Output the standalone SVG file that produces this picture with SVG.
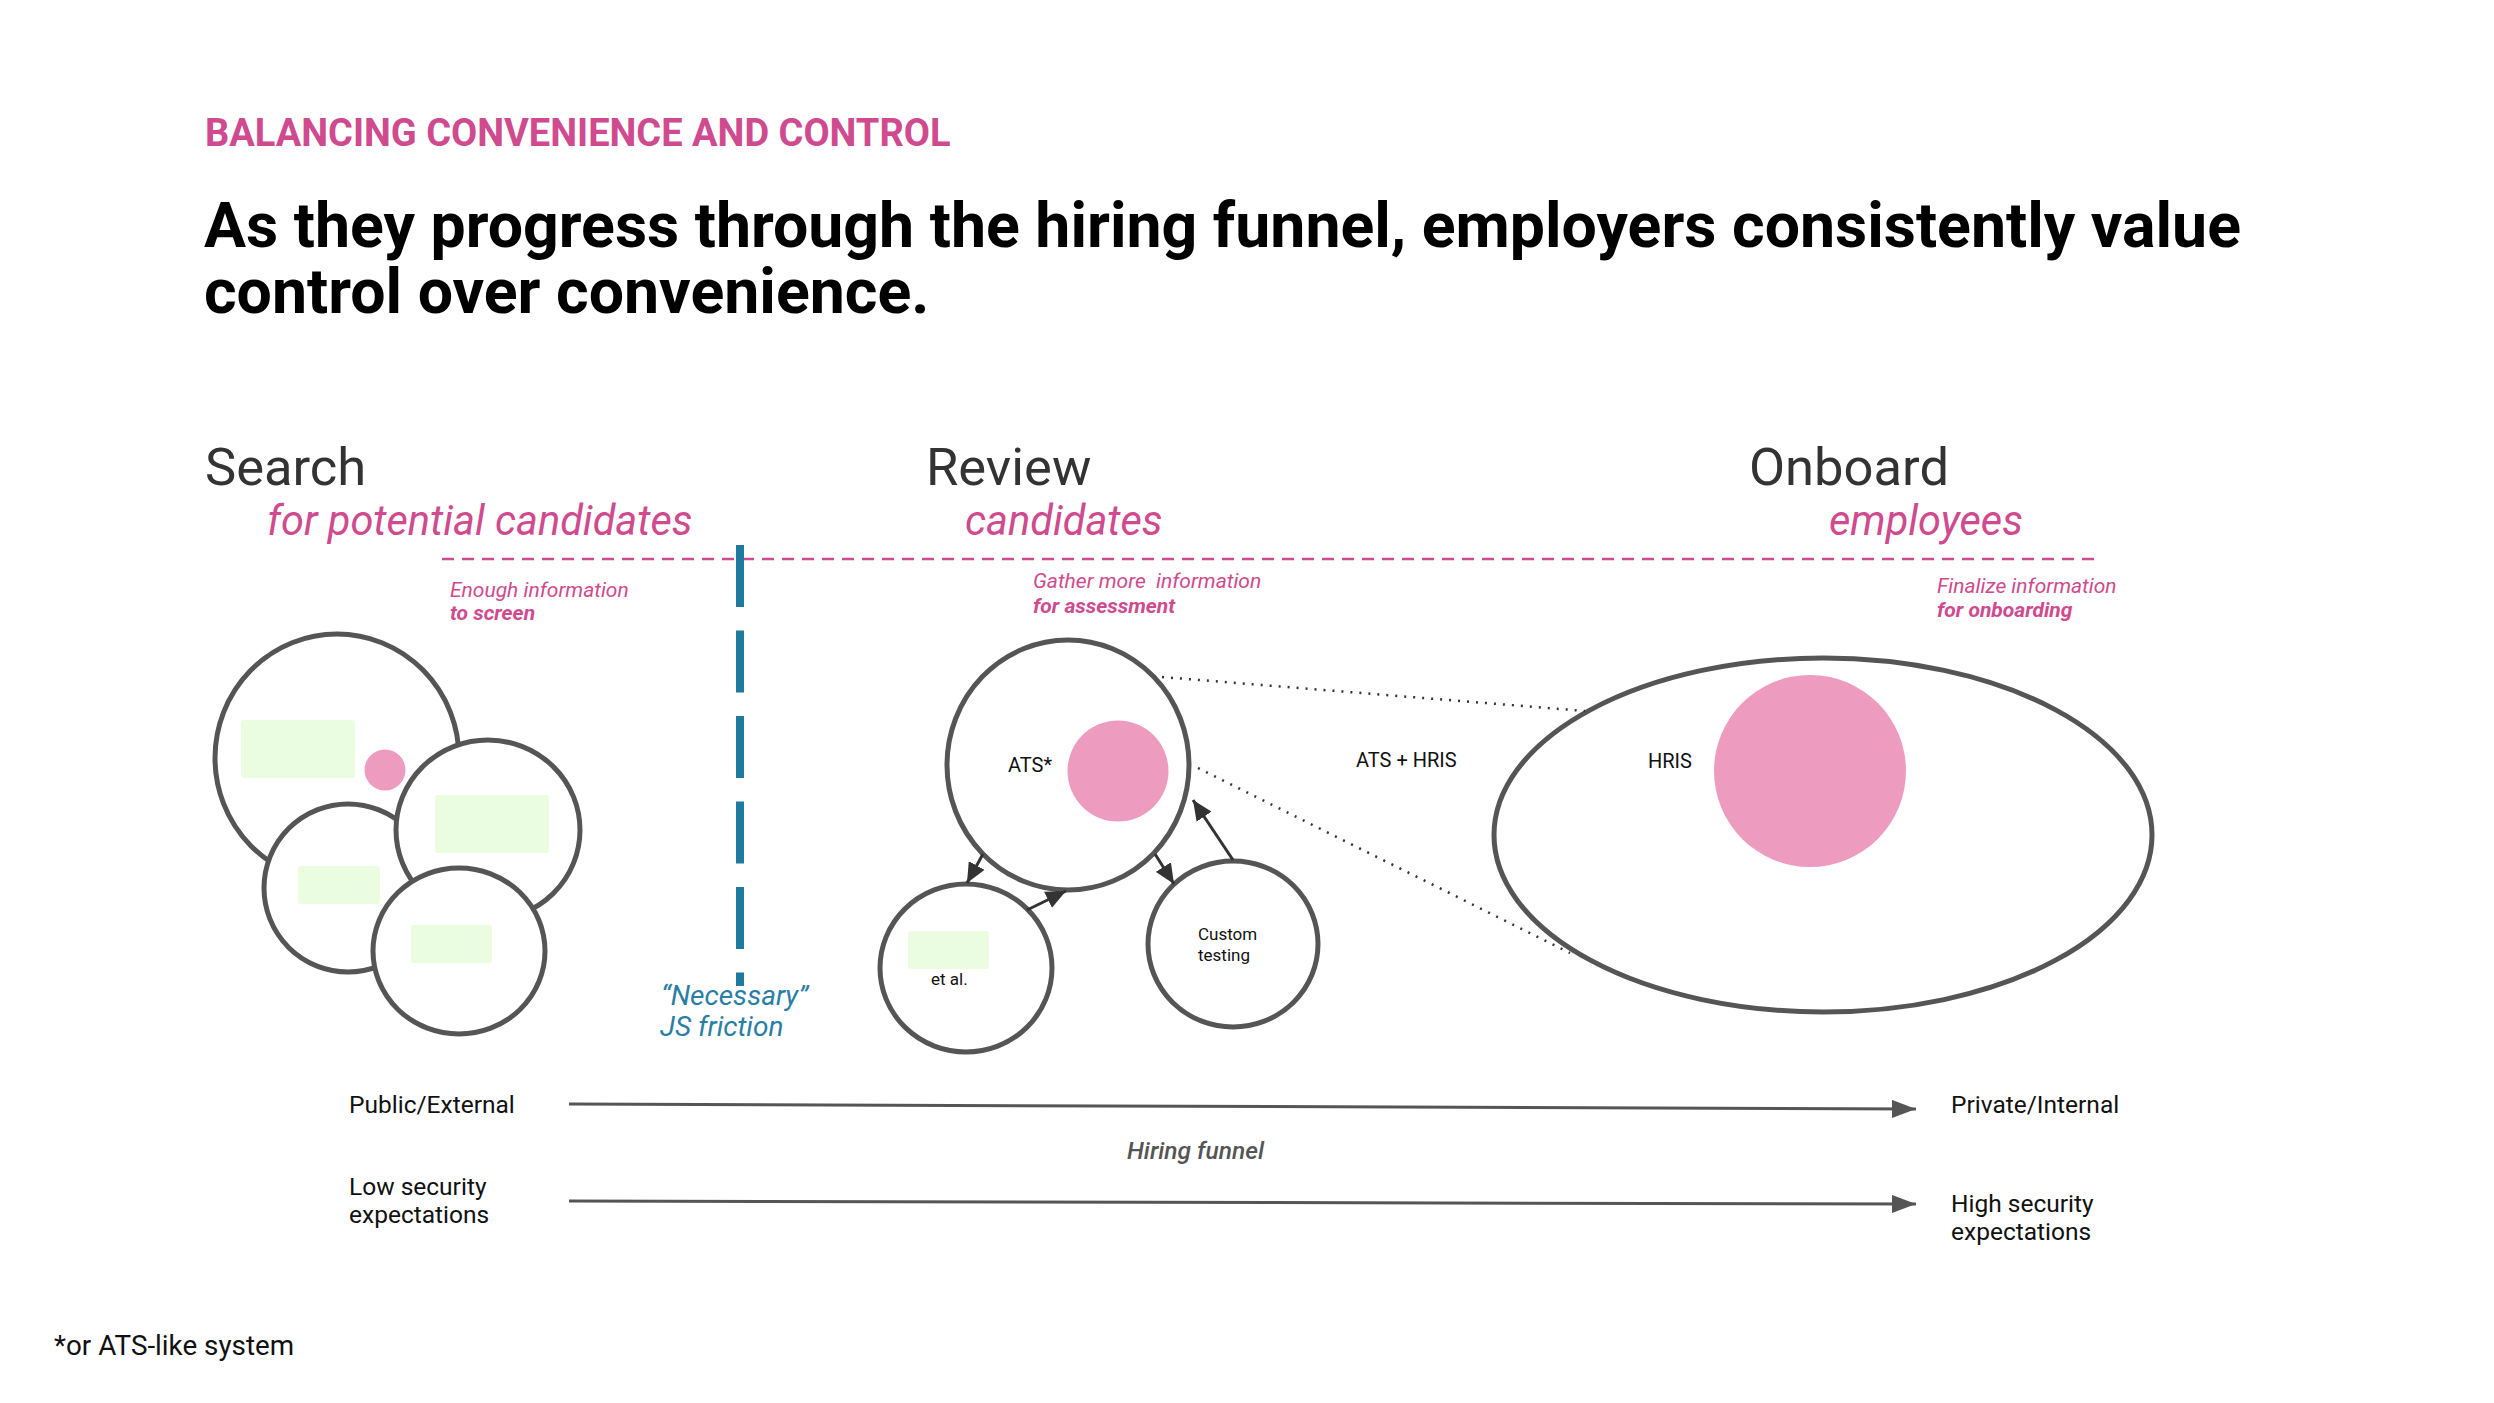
<svg xmlns="http://www.w3.org/2000/svg" width="2494" height="1403" viewBox="0 0 2494 1403">
<style>
  text { font-family: Roboto, "Liberation Sans", sans-serif; }
  .kicker { font-size: 38px; font-weight: 700; fill: #cf4a8e; }
  .head { font-size: 62.6px; font-weight: 700; fill: #000; }
  .stage { font-size: 52.5px; fill: #333; }
  .stagesub { font-size: 41.5px; font-style: italic; fill: #cf4a8e; }
  .note { font-size: 21px; font-style: italic; fill: #cf4a8e; }
  .noteb { font-size: 21px; font-style: italic; font-weight: 700; fill: #cf4a8e; }
  .blue { font-size: 28px; font-style: italic; fill: #2a7ea6; }
  .lbl { font-size: 20px; fill: #111; }
  .lbls { font-size: 17px; fill: #111; }
  .axis { font-size: 24.5px; fill: #111; }
  .axisi { font-size: 24.5px; font-style: italic; font-weight: 500; fill: #555; }
  .foot { font-size: 27.8px; fill: #111; }
  .node { fill: #fff; stroke: #555; stroke-width: 5; }
  .green { fill: #eafde0; }
  .pink { fill: #ee9bc0; }
  .arr { stroke: #333; stroke-width: 3; fill: none; marker-end: url(#ah); }
  .dot { stroke: #333; stroke-width: 2.5; stroke-dasharray: 2 7; fill: none; }
  .axl { stroke: #555; stroke-width: 3; fill: none; marker-end: url(#ah2); }
</style>
<defs>
  <marker id="ah" viewBox="0 0 20 18" refX="20" refY="9" markerWidth="20" markerHeight="18" markerUnits="userSpaceOnUse" orient="auto">
    <path d="M0,0 L20,9 L0,18 Z" fill="#333"/>
  </marker>
  <marker id="ah2" viewBox="0 0 24 18" refX="24" refY="9" markerWidth="24" markerHeight="18" markerUnits="userSpaceOnUse" orient="auto">
    <path d="M0,0 L24,9 L0,18 Z" fill="#555"/>
  </marker>
</defs>
<rect width="2494" height="1403" fill="#fff"/>

<g id="titles">
  <text class="kicker" x="205" y="146">BALANCING CONVENIENCE AND CONTROL</text>
  <text class="head" x="204" y="247">As they progress through the hiring funnel, employers consistently value</text>
  <text class="head" x="204" y="313">control over convenience.</text>
</g>

<g id="stages">
  <text class="stage" x="205" y="485">Search</text>
  <text class="stagesub" x="267" y="535">for potential candidates</text>
  <text class="stage" x="926" y="485">Review</text>
  <text class="stagesub" x="965" y="535">candidates</text>
  <text class="stage" x="1749" y="485">Onboard</text>
  <text class="stagesub" x="1829" y="535">employees</text>
  <line x1="442" y1="559" x2="2095" y2="559" stroke="#cf4a8e" stroke-width="2.5" stroke-dasharray="12 8"/>
  <text class="note" x="450" y="597">Enough information</text>
  <text class="noteb" x="450" y="620">to screen</text>
  <text class="note" x="1033" y="588" xml:space="preserve">Gather more  information</text>
  <text class="noteb" x="1033" y="613">for assessment</text>
  <text class="note" x="1937" y="593">Finalize information</text>
  <text class="noteb" x="1937" y="617">for onboarding</text>
</g>

<g id="friction">
  <line x1="740" y1="545" x2="740" y2="986" stroke="#1e7a9e" stroke-width="8" stroke-dasharray="62 23.5"/>
  <text class="blue" x="661" y="1005">“Necessary”</text>
  <text class="blue" x="660" y="1036">JS friction</text>
</g>

<g id="search-cluster">
  <g id="search-1">
    <ellipse class="node" cx="337" cy="758" rx="122" ry="124"/>
    <rect class="green" x="241" y="720" width="114" height="58" rx="3"/>
    <circle class="pink" cx="385" cy="770" r="20.5"/>
  </g>
  <g id="search-3">
    <ellipse class="node" cx="348" cy="888" rx="84" ry="84"/>
    <rect class="green" x="298" y="866" width="82" height="38" rx="3"/>
  </g>
  <g id="search-2">
    <ellipse class="node" cx="488" cy="830" rx="92" ry="90"/>
    <rect class="green" x="435" y="795" width="114" height="58" rx="3"/>
  </g>
  <g id="search-4">
    <ellipse class="node" cx="459" cy="951" rx="86" ry="83"/>
    <rect class="green" x="411" y="925" width="81" height="38" rx="3"/>
  </g>
</g>

<g id="ats">
  <ellipse class="node" cx="1068" cy="765" rx="121" ry="125"/>
  <circle class="pink" cx="1118" cy="771" r="50.5"/>
  <text class="lbl" x="1008" y="772">ATS*</text>
</g>
<g id="etal">
  <ellipse class="node" cx="966" cy="968" rx="86" ry="84"/>
  <rect class="green" x="908" y="931" width="81" height="38" rx="3"/>
  <text class="lbls" x="931" y="985">et al.</text>
</g>
<g id="custom-testing">
  <ellipse class="node" cx="1233" cy="944" rx="85" ry="83"/>
  <text class="lbls" x="1198" y="940">Custom</text>
  <text class="lbls" x="1198" y="961">testing</text>
</g>
<g id="hris">
  <ellipse class="node" cx="1823" cy="835" rx="329" ry="177"/>
  <circle class="pink" cx="1810" cy="771" r="96"/>
  <text class="lbl" x="1648" y="768">HRIS</text>
</g>
<g id="ats-hris-label">
  <text class="lbl" x="1356" y="767">ATS + HRIS</text>
</g>

<g id="connectors">
  <line class="arr" x1="983" y1="854" x2="967" y2="883"/>
  <line class="arr" x1="1027" y1="910" x2="1066" y2="891"/>
  <line class="arr" x1="1155" y1="854" x2="1174" y2="884"/>
  <line class="arr" x1="1233" y1="860" x2="1193" y2="800"/>
  <line class="dot" x1="1162" y1="677" x2="1585" y2="711"/>
  <line class="dot" x1="1198" y1="768" x2="1570" y2="953"/>
  <line class="axl" x1="569" y1="1104" x2="1916" y2="1109"/>
  <line class="axl" x1="569" y1="1201" x2="1916" y2="1204"/>
</g>

<g id="axes-labels">
  <text class="axis" x="349" y="1113">Public/External</text>
  <text class="axis" x="1951" y="1113">Private/Internal</text>
  <text class="axisi" x="1127" y="1159">Hiring funnel</text>
  <text class="axis" x="349" y="1195">Low security</text>
  <text class="axis" x="349" y="1223">expectations</text>
  <text class="axis" x="1951" y="1212">High security</text>
  <text class="axis" x="1951" y="1240">expectations</text>
</g>

<g id="footnote">
  <text class="foot" x="54" y="1355">*or ATS-like system</text>
</g>
</svg>
